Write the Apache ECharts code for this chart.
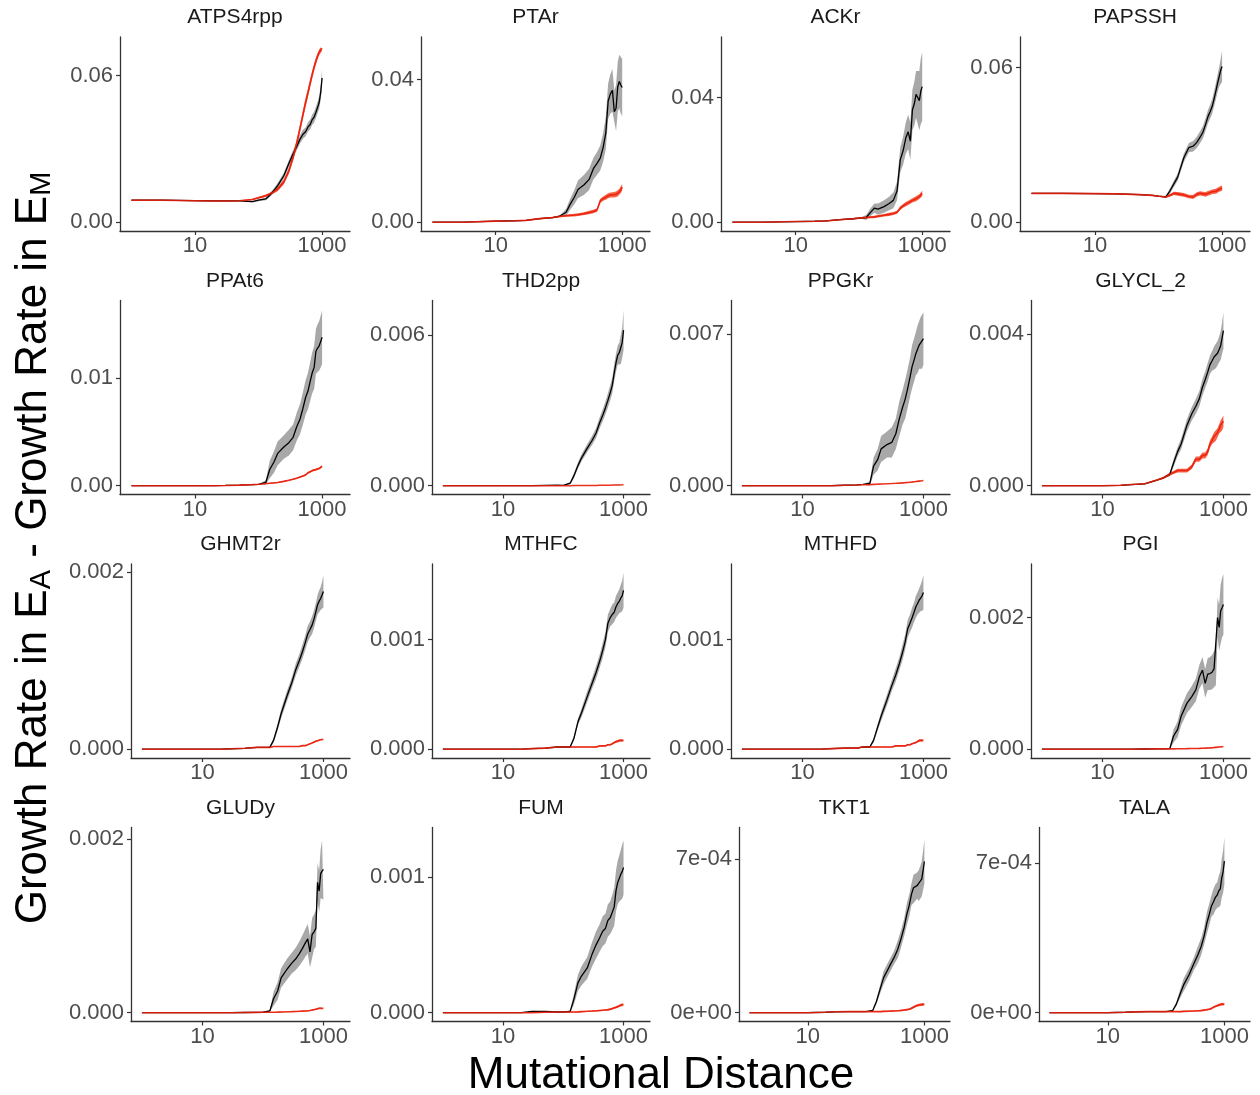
<!DOCTYPE html>
<html>
<head>
<meta charset="utf-8">
<title>Growth rate difference vs mutational distance</title>
<script src="https://cdn.jsdelivr.net/npm/echarts@6.0.0/dist/echarts.min.js"></script>
<style>
  html, body { margin: 0; padding: 0; background: #fff; }
  #chart { width: 1260px; height: 1095px; }
</style>
</head>
<body>
<div id="chart"></div>
<script>
// mutational distance, shared by all panels
const dist = [1, 3, 10, 20, 30, 50, 80, 100, 130, 150, 175, 200, 250, 300, 350, 400, 450, 500, 550, 600, 650, 700, 750, 800, 850, 900, 950, 1000]

const reactions = ['ATPS4rpp', 'PTAr', 'ACKr', 'PAPSSH', 'PPAt6', 'THD2pp', 'PPGKr', 'GLYCL_2',
  'GHMT2r', 'MTHFC', 'MTHFD', 'PGI', 'GLUDy', 'FUM', 'TKT1', 'TALA']

// top of the data range in each panel (ribbon max)
const yTop = [0.0722, 0.0495, 0.0566, 0.0685, 0.0164, 0.00703, 0.00815, 0.00466,
  0.00199, 0.00161, 0.00161, 0.00268, 0.00203, 0.0013, 0.000805, 0.000826]

// the upper labelled tick of each panel, and the tick texts
const yTick = [0.06, 0.04, 0.04, 0.06, 0.01, 0.006, 0.007, 0.004,
  0.002, 0.001, 0.001, 0.002, 0.002, 0.001, 0.0007, 0.0007]
const yTickText = [
  ['0.00', '0.06'], ['0.00', '0.04'], ['0.00', '0.04'], ['0.00', '0.06'],
  ['0.00', '0.01'], ['0.000', '0.006'], ['0.000', '0.007'], ['0.000', '0.004'],
  ['0.000', '0.002'], ['0.000', '0.001'], ['0.000', '0.001'], ['0.000', '0.002'],
  ['0.000', '0.002'], ['0.000', '0.001'], ['0e+00', '7e-04'], ['0e+00', '7e-04']
]
const xTicks = [10, 1000]

// black: mean line, gray ribbon half-width
const blackMean = [
  [0.0090, 0.0090, 0.0088, 0.0087, 0.0087, 0.0087, 0.0084, 0.0090, 0.0095, 0.0110, 0.0130, 0.0150, 0.0190, 0.0240, 0.0280, 0.0310, 0.0340, 0.0360, 0.0370, 0.0390, 0.0400, 0.0420, 0.0430, 0.0450, 0.0470, 0.0490, 0.0530, 0.0590],
  [0, 0, 0.0003, 0.0004, 0.0005, 0.0010, 0.0013, 0.0016, 0.0028, 0.0050, 0.0070, 0.0092, 0.0105, 0.0120, 0.0150, 0.0165, 0.0180, 0.0210, 0.0250, 0.0340, 0.0360, 0.0370, 0.0310, 0.0320, 0.0380, 0.0395, 0.0385, 0.0378],
  [0, 0, 0.0002, 0.0003, 0.0004, 0.0008, 0.0011, 0.0013, 0.0015, 0.0030, 0.0045, 0.0042, 0.0050, 0.0060, 0.0070, 0.0100, 0.0200, 0.0230, 0.0270, 0.0290, 0.0260, 0.0360, 0.0380, 0.0410, 0.0400, 0.0390, 0.0420, 0.0435],
  [0.0112, 0.0112, 0.0111, 0.0110, 0.0109, 0.0107, 0.0104, 0.0101, 0.0098, 0.0120, 0.0150, 0.0175, 0.0250, 0.0290, 0.0295, 0.0310, 0.0330, 0.0350, 0.0380, 0.0410, 0.0430, 0.0450, 0.0480, 0.0510, 0.0540, 0.0565, 0.0590, 0.0605],
  [0, 0, 0, 0, 0.00002, 0.00005, 0.0001, 0.00013, 0.0003, 0.0015, 0.0022, 0.0030, 0.0036, 0.0040, 0.0045, 0.0055, 0.0062, 0.0072, 0.0082, 0.0088, 0.0097, 0.0105, 0.0110, 0.0125, 0.0128, 0.0130, 0.0134, 0.0138],
  [0, 0, 0, 0, 0, 0.00001, 0.00002, 0.00001, 0.0001, 0.0004, 0.0008, 0.0011, 0.0015, 0.0018, 0.0021, 0.0025, 0.0028, 0.0031, 0.0034, 0.0037, 0.0040, 0.0045, 0.0049, 0.0052, 0.0053, 0.0053, 0.0057, 0.0062],
  [0, 0, 0, 0, 0, 0.00002, 0.00004, 0.00006, 0.0001, 0.0009, 0.0012, 0.0017, 0.0019, 0.0020, 0.0024, 0.0031, 0.0036, 0.0040, 0.0045, 0.0050, 0.0055, 0.0058, 0.0061, 0.0063, 0.0065, 0.0066, 0.0066, 0.0068],
  [0, 0, 0, 0.00001, 0.00003, 0.00005, 0.00015, 0.0002, 0.0003, 0.0006, 0.0009, 0.0011, 0.0016, 0.0019, 0.0021, 0.0023, 0.0026, 0.0028, 0.0030, 0.0032, 0.0033, 0.0034, 0.0034, 0.0035, 0.0036, 0.0037, 0.0039, 0.0041],
  [0, 0, 0, 0, 0.000005, 0.00001, 0.00002, 0.00002, 0.00002, 0.0001, 0.00025, 0.0004, 0.0006, 0.00075, 0.0009, 0.0010, 0.0011, 0.0012, 0.0013, 0.00135, 0.0014, 0.00147, 0.00155, 0.00163, 0.00167, 0.0017, 0.00174, 0.00178],
  [0, 0, 0, 0, 0.000005, 0.00001, 0.00002, 0.00002, 0.00002, 0.0001, 0.00025, 0.00033, 0.00048, 0.0006, 0.0007, 0.0008, 0.0009, 0.0010, 0.00115, 0.0012, 0.00123, 0.00125, 0.0013, 0.00133, 0.00135, 0.00138, 0.0014, 0.00145],
  [0, 0, 0, 0, 0.000005, 0.00001, 0.00001, 0.00002, 0.00002, 0.00008, 0.0002, 0.0003, 0.00045, 0.00058, 0.00068, 0.00078, 0.00088, 0.00098, 0.0011, 0.00115, 0.0012, 0.00125, 0.0013, 0.00133, 0.00136, 0.00138, 0.0014, 0.00143],
  [0, 0, 0, 0, 0, 0.000003, 0.000005, 0.000005, 0.00001, 0.0002, 0.0003, 0.0005, 0.0007, 0.0008, 0.0009, 0.0011, 0.0012, 0.0010, 0.00114, 0.00115, 0.00117, 0.00122, 0.00125, 0.0020, 0.00185, 0.0021, 0.00215, 0.0022],
  [0, 0, 0, 0, 0, 0.000002, 0.000004, 0.000005, 0.00002, 0.00016, 0.00025, 0.0004, 0.0005, 0.00057, 0.00062, 0.00068, 0.00074, 0.0008, 0.00085, 0.0007, 0.0009, 0.00093, 0.00097, 0.0015, 0.0014, 0.0016, 0.00163, 0.00165],
  [0, 0, 0, 0, 0.00001, 0.00001, 0.000005, 0.000005, 0.00001, 0.0001, 0.00022, 0.00027, 0.00033, 0.00043, 0.0005, 0.00055, 0.0006, 0.00062, 0.00068, 0.0007, 0.00074, 0.00078, 0.0009, 0.00096, 0.00099, 0.00102, 0.00104, 0.00107],
  [0, 0, 0, 0.000002, 0.000004, 0.000005, 0.000005, 0.000005, 0.00001, 0.00005, 0.00011, 0.00016, 0.00021, 0.00025, 0.00029, 0.00034, 0.00039, 0.00045, 0.00049, 0.00054, 0.00057, 0.00057, 0.00058, 0.00058, 0.0006, 0.00061, 0.00065, 0.00069],
  [0, 0, 0, 0.000002, 0.000004, 0.000005, 0.000005, 0.000005, 0.00001, 0.00004, 0.00009, 0.00013, 0.00018, 0.00023, 0.00027, 0.00031, 0.00036, 0.00042, 0.00046, 0.0005, 0.00052, 0.00054, 0.00055, 0.00057, 0.00058, 0.00063, 0.00066, 0.00071]
]
const blackSpread = [
  [0, 0, 0, 0, 0, 0, 0.0003, 0.0004, 0.0005, 0.0007, 0.0009, 0.0010, 0.0012, 0.0014, 0.0015, 0.0016, 0.0017, 0.0018, 0.0018, 0.0019, 0.0020, 0.0021, 0.0022, 0.0023, 0.0024, 0.0026, 0.0030, 0.0035],
  [0, 0, 0, 0, 0, 0, 0, 0, 0.0010, 0.0015, 0.0020, 0.0025, 0.0028, 0.0030, 0.0030, 0.0032, 0.0035, 0.0040, 0.0045, 0.0050, 0.0055, 0.0060, 0.0060, 0.0065, 0.0070, 0.0075, 0.0080, 0.0080],
  [0, 0, 0, 0, 0, 0, 0, 0, 0.0008, 0.0012, 0.0015, 0.0018, 0.0020, 0.0022, 0.0025, 0.0030, 0.0040, 0.0045, 0.0050, 0.0055, 0.0060, 0.0065, 0.0070, 0.0075, 0.0085, 0.0095, 0.0105, 0.0110],
  [0, 0, 0, 0, 0, 0, 0, 0, 0.0005, 0.0010, 0.0012, 0.0014, 0.0016, 0.0018, 0.0020, 0.0022, 0.0023, 0.0024, 0.0025, 0.0026, 0.0027, 0.0028, 0.0030, 0.0032, 0.0034, 0.0038, 0.0045, 0.0060],
  [0, 0, 0, 0, 0, 0, 0, 0, 0.0002, 0.0008, 0.0010, 0.0011, 0.0011, 0.0012, 0.0012, 0.0013, 0.0014, 0.0015, 0.0016, 0.0017, 0.0018, 0.0019, 0.0020, 0.0021, 0.0022, 0.0023, 0.0024, 0.0025],
  [0, 0, 0, 0, 0, 0, 0, 0, 0.00005, 0.0001, 0.00012, 0.00014, 0.00016, 0.00018, 0.0002, 0.00022, 0.00024, 0.00026, 0.00028, 0.0003, 0.00032, 0.00034, 0.00036, 0.00038, 0.0004, 0.00045, 0.0006, 0.0008],
  [0, 0, 0, 0, 0, 0, 0, 0, 0.0001, 0.0004, 0.0005, 0.0006, 0.0006, 0.0007, 0.0007, 0.0008, 0.0008, 0.0009, 0.0009, 0.0009, 0.0010, 0.0010, 0.0010, 0.0011, 0.0011, 0.0012, 0.0012, 0.0012],
  [0, 0, 0, 0, 0, 0, 0, 0, 0.00005, 0.0001, 0.00012, 0.00014, 0.00016, 0.00018, 0.0002, 0.0002, 0.00022, 0.00022, 0.00024, 0.00024, 0.00026, 0.00028, 0.0003, 0.00032, 0.00034, 0.00038, 0.00042, 0.00048],
  [0, 0, 0, 0, 0, 0, 0, 0, 0.00001, 0.00003, 0.00004, 0.00005, 0.00006, 0.00006, 0.00007, 0.00007, 0.00008, 0.00008, 0.00009, 0.00009, 0.0001, 0.0001, 0.0001, 0.00011, 0.00012, 0.00013, 0.00015, 0.00018],
  [0, 0, 0, 0, 0, 0, 0, 0, 0.00001, 0.00002, 0.00003, 0.00004, 0.00005, 0.00005, 0.00006, 0.00006, 0.00007, 0.00007, 0.00008, 0.00008, 0.00009, 0.00009, 0.0001, 0.0001, 0.00011, 0.00012, 0.00014, 0.00016],
  [0, 0, 0, 0, 0, 0, 0, 0, 0.00001, 0.00002, 0.00003, 0.00004, 0.00005, 0.00005, 0.00006, 0.00006, 0.00007, 0.00007, 0.00008, 0.00008, 0.00009, 0.00009, 0.0001, 0.0001, 0.00011, 0.00012, 0.00014, 0.00016],
  [0, 0, 0, 0, 0, 0, 0, 0, 0.00001, 0.0001, 0.00012, 0.00014, 0.00015, 0.00016, 0.00017, 0.00018, 0.0002, 0.00022, 0.00024, 0.00025, 0.00026, 0.00027, 0.00028, 0.0003, 0.00035, 0.0004, 0.00045, 0.00046],
  [0, 0, 0, 0, 0, 0, 0, 0, 0.00001, 0.00008, 0.0001, 0.00011, 0.00012, 0.00012, 0.00013, 0.00014, 0.00015, 0.00016, 0.00017, 0.00018, 0.00019, 0.0002, 0.00021, 0.00022, 0.00024, 0.00028, 0.00035, 0.00035],
  [0, 0, 0, 0, 0, 0, 0, 0, 0.00001, 0.00004, 0.00006, 0.00007, 0.00008, 0.00009, 0.0001, 0.0001, 0.00011, 0.00011, 0.00012, 0.00012, 0.00013, 0.00014, 0.00015, 0.00016, 0.00017, 0.00018, 0.0002, 0.0002],
  [0, 0, 0, 0, 0, 0, 0, 0, 0.000005, 0.00001, 0.00002, 0.00003, 0.00003, 0.00003, 0.00004, 0.00004, 0.00004, 0.00005, 0.00005, 0.00005, 0.00006, 0.00006, 0.00006, 0.00007, 0.00007, 0.00008, 0.00009, 0.0001],
  [0, 0, 0, 0, 0, 0, 0, 0, 0.000005, 0.00001, 0.00002, 0.00003, 0.00003, 0.00003, 0.00004, 0.00004, 0.00004, 0.00005, 0.00005, 0.00005, 0.00006, 0.00006, 0.00006, 0.00007, 0.00008, 0.00009, 0.0001, 0.00011]
]

// red: mean line, red ribbon half-width
const redMean = [
  [0.0090, 0.0090, 0.0088, 0.0087, 0.0087, 0.0088, 0.0093, 0.0100, 0.0108, 0.0115, 0.0125, 0.0135, 0.0165, 0.0210, 0.0265, 0.0325, 0.0385, 0.0440, 0.0490, 0.0530, 0.0570, 0.0605, 0.0635, 0.0660, 0.0680, 0.0695, 0.0705, 0.0712],
  [0, 0, 0.0003, 0.0004, 0.0005, 0.0010, 0.0013, 0.0016, 0.0018, 0.0019, 0.0020, 0.0021, 0.0024, 0.0027, 0.0030, 0.0034, 0.0060, 0.0066, 0.0070, 0.0074, 0.0076, 0.0077, 0.0077, 0.0078, 0.0080, 0.0085, 0.0090, 0.0098],
  [0, 0, 0.0002, 0.0003, 0.0004, 0.0008, 0.0011, 0.0013, 0.0015, 0.0016, 0.0017, 0.0019, 0.0022, 0.0025, 0.0028, 0.0032, 0.0045, 0.0052, 0.0058, 0.0062, 0.0066, 0.0070, 0.0072, 0.0075, 0.0078, 0.0082, 0.0087, 0.0092],
  [0.0112, 0.0112, 0.0111, 0.0110, 0.0109, 0.0107, 0.0104, 0.0101, 0.0098, 0.0104, 0.0112, 0.0110, 0.0106, 0.0100, 0.0098, 0.0108, 0.0112, 0.0110, 0.0108, 0.0112, 0.0115, 0.0118, 0.0122, 0.0120, 0.0124, 0.0128, 0.0130, 0.0132],
  [0, 0, 0, 0, 0.00002, 0.00005, 0.0001, 0.00013, 0.00018, 0.00022, 0.00026, 0.0003, 0.0004, 0.0005, 0.0006, 0.0007, 0.0008, 0.0009, 0.0010, 0.0012, 0.0013, 0.0014, 0.0014, 0.0015, 0.0016, 0.0016, 0.0017, 0.0018],
  [0, 0, 0, 0, 0, 0, 0, 0, 0, 0.000005, 0.000005, 0.000005, 0.00001, 0.00001, 0.00001, 0.000015, 0.000015, 0.00002, 0.00002, 0.00002, 0.000025, 0.000025, 0.00003, 0.00003, 0.00003, 0.000035, 0.000035, 0.00004],
  [0, 0, 0, 0, 0, 0.00002, 0.00003, 0.00004, 0.00005, 0.00006, 0.00007, 0.00008, 0.00009, 0.0001, 0.00011, 0.00012, 0.00013, 0.00014, 0.00015, 0.00016, 0.00017, 0.00018, 0.00019, 0.0002, 0.00021, 0.00022, 0.00023, 0.00024],
  [0, 0, 0, 0.00001, 0.00003, 0.00005, 0.00015, 0.0002, 0.0003, 0.00035, 0.0004, 0.0004, 0.0004, 0.0005, 0.0007, 0.0007, 0.0008, 0.0008, 0.0009, 0.0011, 0.0012, 0.0013, 0.0013, 0.0014, 0.0015, 0.0016, 0.0016, 0.0017],
  [0, 0, 0, 0, 0.000005, 0.00001, 0.00002, 0.00002, 0.00002, 0.00003, 0.00003, 0.00003, 0.00003, 0.00003, 0.00003, 0.00003, 0.00004, 0.00004, 0.00005, 0.00006, 0.00007, 0.00008, 0.00009, 0.0001, 0.0001, 0.00011, 0.00011, 0.00011],
  [0, 0, 0, 0, 0.000005, 0.00001, 0.00002, 0.00002, 0.00002, 0.00002, 0.00002, 0.00002, 0.00002, 0.00002, 0.00002, 0.00003, 0.00003, 0.00003, 0.00004, 0.00004, 0.00005, 0.00006, 0.00007, 0.00007, 0.00008, 0.00008, 0.00008, 0.00008],
  [0, 0, 0, 0, 0.000005, 0.00001, 0.00001, 0.00002, 0.00002, 0.00002, 0.00002, 0.00002, 0.00002, 0.00002, 0.00003, 0.00003, 0.00003, 0.00003, 0.00004, 0.00004, 0.00005, 0.00006, 0.00006, 0.00007, 0.00008, 0.00008, 0.00008, 0.00008],
  [0, 0, 0, 0, 0, 0.000003, 0.000005, 0.000005, 0.000005, 0.000005, 0.000006, 0.000006, 0.000008, 0.00001, 0.00001, 0.000012, 0.000014, 0.000016, 0.000018, 0.00002, 0.000022, 0.000025, 0.000028, 0.00003, 0.000033, 0.000035, 0.000038, 0.00004],
  [0, 0, 0, 0, 0, 0.000002, 0.000004, 0.000005, 0.000005, 0.000005, 0.000006, 0.000008, 0.00001, 0.000012, 0.000014, 0.000016, 0.000018, 0.00002, 0.000022, 0.000025, 0.00003, 0.000035, 0.00004, 0.000045, 0.00005, 0.00005, 0.00005, 0.00005],
  [0, 0, 0, 0, 0, 0.000003, 0.000005, 0.000005, 0.000005, 0.000005, 0.000006, 0.000008, 0.00001, 0.000012, 0.000014, 0.000016, 0.000018, 0.00002, 0.000022, 0.000025, 0.00003, 0.000035, 0.00004, 0.000045, 0.00005, 0.000055, 0.00006, 0.00006],
  [0, 0, 0, 0.000002, 0.000004, 0.000005, 0.000005, 0.000005, 0.000005, 0.000005, 0.000005, 0.000006, 0.000007, 0.000008, 0.000009, 0.00001, 0.000012, 0.000014, 0.000016, 0.00002, 0.000025, 0.00003, 0.000033, 0.000035, 0.000036, 0.000037, 0.000038, 0.000039],
  [0, 0, 0, 0.000002, 0.000004, 0.000005, 0.000005, 0.000005, 0.000005, 0.000005, 0.000005, 0.000006, 0.000007, 0.000008, 0.000009, 0.00001, 0.000012, 0.000014, 0.000016, 0.00002, 0.000025, 0.00003, 0.000033, 0.000036, 0.000038, 0.00004, 0.00004, 0.00004]
]
const redSpread = [
  [0.0002, 0.0002, 0.0002, 0.0002, 0.0002, 0.0002, 0.0003, 0.0004, 0.0005, 0.0006, 0.0007, 0.0008, 0.0010, 0.0012, 0.0014, 0.0016, 0.0017, 0.0018, 0.0018, 0.0018, 0.0017, 0.0016, 0.0015, 0.0014, 0.0013, 0.0012, 0.0011, 0.0010],
  [0, 0, 0.0001, 0.0001, 0.0001, 0.0002, 0.0002, 0.0003, 0.0003, 0.0003, 0.0004, 0.0004, 0.0004, 0.0005, 0.0005, 0.0005, 0.0006, 0.0006, 0.0007, 0.0007, 0.0007, 0.0007, 0.0008, 0.0008, 0.0008, 0.0008, 0.0008, 0.0009],
  [0, 0, 0.0001, 0.0001, 0.0001, 0.0002, 0.0002, 0.0003, 0.0003, 0.0003, 0.0004, 0.0004, 0.0004, 0.0005, 0.0005, 0.0005, 0.0006, 0.0006, 0.0007, 0.0007, 0.0007, 0.0007, 0.0008, 0.0008, 0.0008, 0.0008, 0.0008, 0.0009],
  [0.0001, 0.0001, 0.0001, 0.0001, 0.0001, 0.0001, 0.0002, 0.0002, 0.0003, 0.0005, 0.0006, 0.0007, 0.0007, 0.0007, 0.0008, 0.0008, 0.0008, 0.0008, 0.0009, 0.0009, 0.0009, 0.0009, 0.0009, 0.0010, 0.0010, 0.0010, 0.0010, 0.0010],
  [0, 0, 0, 0, 0.00001, 0.00001, 0.00002, 0.00002, 0.00003, 0.00003, 0.00004, 0.00004, 0.00005, 0.00005, 0.00006, 0.00006, 0.00007, 0.00007, 0.00008, 0.00008, 0.00009, 0.00009, 0.0001, 0.0001, 0.0001, 0.0001, 0.0001, 0.0001],
  [0, 0, 0, 0, 0, 0, 0, 0, 0, 0.000003, 0.000003, 0.000003, 0.000004, 0.000004, 0.000004, 0.000005, 0.000005, 0.000005, 0.000006, 0.000006, 0.000006, 0.000007, 0.000007, 0.000007, 0.000008, 0.000008, 0.000008, 0.000009],
  [0, 0, 0, 0, 0, 0.000005, 0.000005, 0.000005, 0.00001, 0.00001, 0.00001, 0.00001, 0.00001, 0.000015, 0.000015, 0.000015, 0.000015, 0.00002, 0.00002, 0.00002, 0.00002, 0.00002, 0.000025, 0.000025, 0.000025, 0.000025, 0.000025, 0.000025],
  [0, 0, 0, 0.000005, 0.00001, 0.00001, 0.00002, 0.00003, 0.00004, 0.00004, 0.00005, 0.00005, 0.00005, 0.00006, 0.00007, 0.00007, 0.00008, 0.00008, 0.00009, 0.0001, 0.0001, 0.00011, 0.00011, 0.00012, 0.00012, 0.00013, 0.00014, 0.00015],
  [0, 0, 0, 0, 0.000002, 0.000003, 0.000004, 0.000004, 0.000004, 0.000004, 0.000005, 0.000005, 0.000005, 0.000005, 0.000006, 0.000006, 0.000006, 0.000006, 0.000007, 0.000007, 0.000007, 0.000008, 0.000008, 0.000008, 0.000009, 0.000009, 0.00001, 0.00001],
  [0, 0, 0, 0, 0.000002, 0.000003, 0.000004, 0.000004, 0.000004, 0.000004, 0.000005, 0.000005, 0.000005, 0.000005, 0.000006, 0.000006, 0.000006, 0.000006, 0.000007, 0.000007, 0.000007, 0.000008, 0.000008, 0.000008, 0.000009, 0.000009, 0.00001, 0.00001],
  [0, 0, 0, 0, 0.000002, 0.000003, 0.000004, 0.000004, 0.000004, 0.000004, 0.000005, 0.000005, 0.000005, 0.000005, 0.000006, 0.000006, 0.000006, 0.000006, 0.000007, 0.000007, 0.000007, 0.000008, 0.000008, 0.000008, 0.000009, 0.000009, 0.00001, 0.00001],
  [0, 0, 0, 0, 0.000002, 0.000003, 0.000004, 0.000004, 0.000004, 0.000004, 0.000005, 0.000005, 0.000005, 0.000005, 0.000006, 0.000006, 0.000006, 0.000006, 0.000007, 0.000007, 0.000007, 0.000008, 0.000008, 0.000008, 0.000009, 0.000009, 0.00001, 0.00001],
  [0, 0, 0, 0, 0.000002, 0.000003, 0.000004, 0.000004, 0.000004, 0.000004, 0.000005, 0.000005, 0.000005, 0.000005, 0.000006, 0.000006, 0.000006, 0.000006, 0.000007, 0.000007, 0.000007, 0.000008, 0.000008, 0.000008, 0.000009, 0.000009, 0.00001, 0.00001],
  [0, 0, 0, 0, 0.000002, 0.000003, 0.000004, 0.000004, 0.000004, 0.000004, 0.000005, 0.000005, 0.000005, 0.000005, 0.000006, 0.000006, 0.000006, 0.000006, 0.000007, 0.000007, 0.000007, 0.000008, 0.000008, 0.000008, 0.000009, 0.000009, 0.00001, 0.00001],
  [0, 0, 0, 0, 0.000001, 0.000002, 0.000002, 0.000002, 0.000002, 0.000002, 0.000003, 0.000003, 0.000003, 0.000003, 0.000003, 0.000004, 0.000004, 0.000004, 0.000004, 0.000005, 0.000005, 0.000005, 0.000005, 0.000006, 0.000006, 0.000006, 0.000006, 0.000006],
  [0, 0, 0, 0, 0.000001, 0.000002, 0.000002, 0.000002, 0.000002, 0.000002, 0.000003, 0.000003, 0.000003, 0.000003, 0.000003, 0.000004, 0.000004, 0.000004, 0.000004, 0.000005, 0.000005, 0.000005, 0.000005, 0.000006, 0.000006, 0.000006, 0.000006, 0.000006]
]

// layout: left edge of each panel's y axis, right edge per column, top per row
const panelLeft = [120, 421, 721, 1020, 120, 432, 731, 1031, 131, 432, 731, 1031, 131, 432, 739, 1039]
const colRight = [350, 650, 950, 1250]
const FONT = '"Liberation Sans", Arial, sans-serif'
const AXIS_COLOR = '#333333'
const LABEL_COLOR = '#4d4d4d'

const chart = echarts.init(document.getElementById('chart'))

const grids = []
const xAxes = []
const yAxes = []
const titles = []
const series = []

reactions.forEach((name, i) => {
  const row = Math.floor(i / 4)
  const col = i % 4
  const top = 37 + row * 263.5
  const left = panelLeft[i]
  const width = colRight[col] - left
  grids.push({ left: left, top: top, width: width, height: 194, outerBoundsMode: 'none' })
  titles.push({
    text: name,
    left: left + width / 2,
    top: top - 30,
    textAlign: 'center',
    padding: 0,
    textStyle: { fontFamily: FONT, fontSize: 21, fontWeight: 'normal', color: '#1a1a1a' }
  })
  xAxes.push({
    type: 'log',
    logBase: 10,
    gridIndex: i,
    min: 0.66,
    max: 2750,
    axisLine: { show: true, onZero: false, lineStyle: { color: AXIS_COLOR, width: 1.3 } },
    axisTick: { show: true, customValues: xTicks, length: 4, lineStyle: { color: AXIS_COLOR, width: 1.2 } },
    axisLabel: {
      customValues: xTicks,
      margin: 4,
      color: LABEL_COLOR,
      fontFamily: FONT,
      fontSize: 22,
      formatter: v => String(Math.round(v))
    },
    splitLine: { show: false },
    minorSplitLine: { show: false }
  })
  const labels = yTickText[i]
  yAxes.push({
    type: 'value',
    gridIndex: i,
    min: -0.05 * yTop[i],
    max: 1.05 * yTop[i],
    axisLine: { show: true, onZero: false, lineStyle: { color: AXIS_COLOR, width: 1.3 } },
    axisTick: { show: true, customValues: [0, yTick[i]], length: 4, lineStyle: { color: AXIS_COLOR, width: 1.2 } },
    axisLabel: {
      customValues: [0, yTick[i]],
      margin: 7,
      color: LABEL_COLOR,
      fontFamily: FONT,
      fontSize: 22,
      formatter: v => (Math.abs(v) < 1e-12 ? labels[0] : labels[1])
    },
    splitLine: { show: false }
  })

  const common = {
    type: 'line',
    xAxisIndex: i,
    yAxisIndex: i,
    symbol: 'none',
    silent: true,
    animation: false
  }
  // ribbon = invisible lower edge + stacked width; rows are [y, x] so the stack runs on y
  const band = (mean, spread, stackId, color) => [
    Object.assign({}, common, {
      stack: stackId,
      stackStrategy: 'all',
      encode: { x: 1, y: 0 },
      lineStyle: { opacity: 0 },
      data: dist.map((d, k) => [mean[k] - spread[k], d])
    }),
    Object.assign({}, common, {
      stack: stackId,
      stackStrategy: 'all',
      encode: { x: 1, y: 0 },
      lineStyle: { opacity: 0 },
      areaStyle: { color: color, opacity: 1 },
      data: dist.map((d, k) => [2 * spread[k], d])
    })
  ]
  series.push(...band(blackMean[i], blackSpread[i], 'black' + i, 'rgba(110,110,110,0.6)'))
  series.push(Object.assign({}, common, {
    lineStyle: { color: '#000000', width: 1.3 },
    data: dist.map((d, k) => [d, blackMean[i][k]])
  }))
  series.push(...band(redMean[i], redSpread[i], 'red' + i, 'rgba(245,60,25,0.8)'))
  series.push(Object.assign({}, common, {
    lineStyle: { color: '#e81f0c', width: 1.6, opacity: 0.9 },
    data: dist.map((d, k) => [d, redMean[i][k]])
  }))
})

chart.setOption({
  backgroundColor: '#ffffff',
  animation: false,
  title: titles,
  grid: grids,
  xAxis: xAxes,
  yAxis: yAxes,
  series: series,
  graphic: [
    {
      type: 'text',
      x: 34,
      y: 548,
      rotation: Math.PI / 2,
      style: {
        text: '{m|Growth Rate in E}{s|A}{m| - Growth Rate in E}{s|M}',
        align: 'center',
        verticalAlign: 'middle',
        rich: {
          m: { fontFamily: FONT, fontSize: 44, fill: '#000', verticalAlign: 'bottom' },
          s: { fontFamily: FONT, fontSize: 29, fill: '#000', verticalAlign: 'bottom' }
        }
      }
    },
    {
      type: 'text',
      x: 661,
      y: 1076,
      style: {
        text: 'Mutational Distance',
        align: 'center',
        verticalAlign: 'middle',
        fontFamily: FONT,
        fontSize: 44,
        fill: '#000'
      }
    }
  ]
})
</script>
</body>
</html>
